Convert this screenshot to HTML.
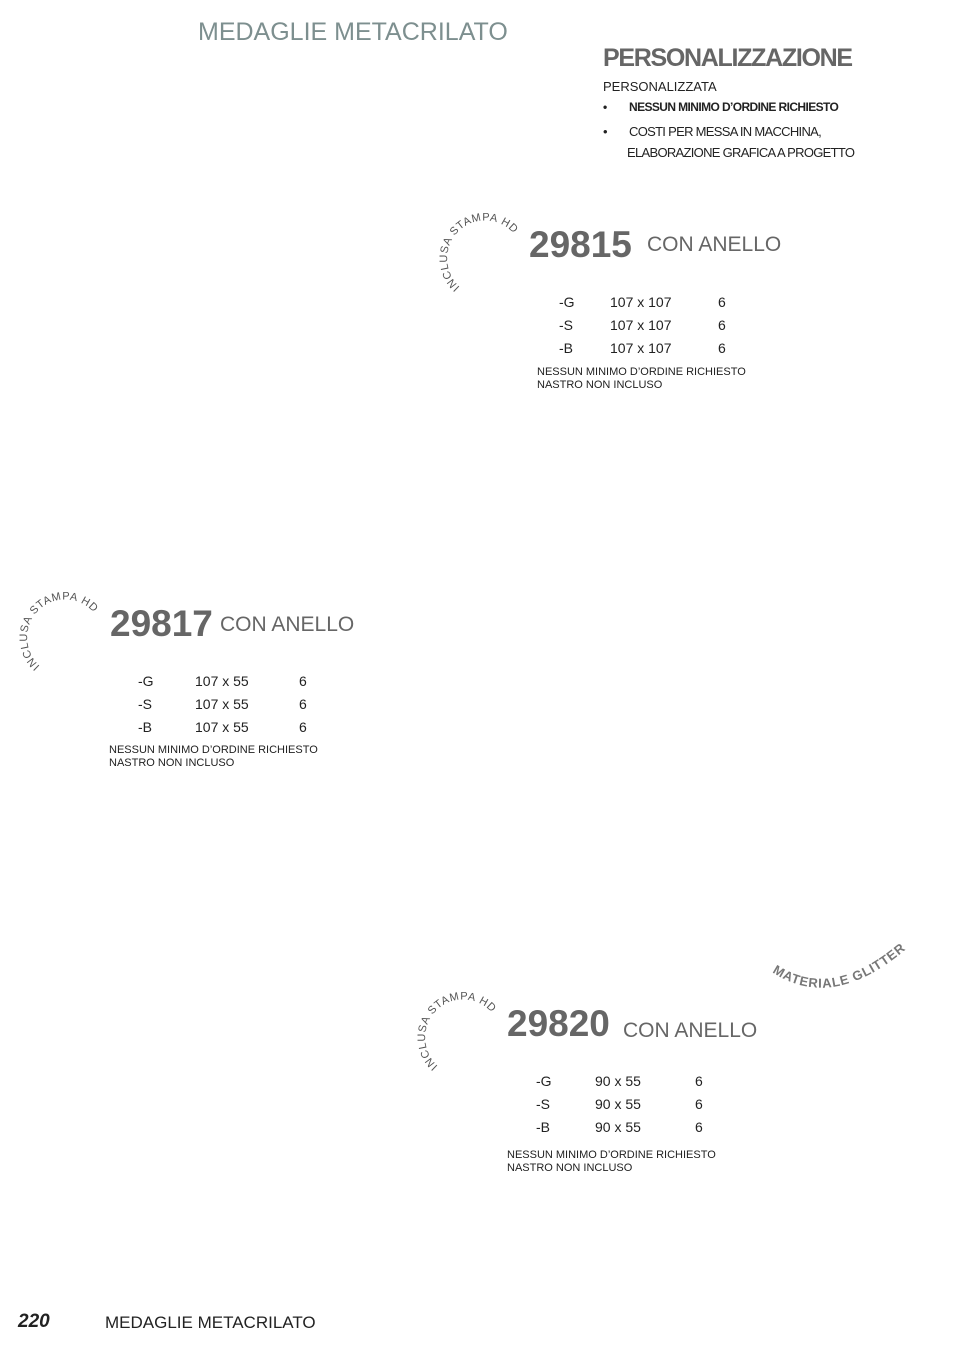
<!DOCTYPE html>
<html><head><meta charset="utf-8"><style>
body{margin:0;background:#fff;}
.pg{position:relative;width:970px;height:1350px;font-family:"Liberation Sans",sans-serif;color:#222;overflow:hidden;}
.a{position:absolute;white-space:nowrap;}
.num{font-weight:bold;color:#666;font-size:37px;}
.con{color:#666;font-size:21px;}
.row{font-size:14px;color:#222;}
.note{font-size:11px;color:#222;line-height:13px;}
</style></head><body><div class="pg">
<div class="a" style="left:198px;top:18px;font-size:25px;color:#7d8f8f;">MEDAGLIE METACRILATO</div>
<div class="a" style="left:603px;top:44px;font-size:25px;font-weight:bold;color:#666;letter-spacing:-1.3px;">PERSONALIZZAZIONE</div>
<div class="a" style="left:603px;top:79px;font-size:13px;">PERSONALIZZATA</div>
<div class="a" style="left:603px;top:100px;font-size:12px;font-weight:bold;letter-spacing:-0.6px;">•<span style="position:absolute;left:26px;">NESSUN MINIMO D’ORDINE RICHIESTO</span></div>
<div class="a" style="left:603px;top:121px;font-size:13px;letter-spacing:-0.7px;line-height:21px;">•<span style="position:absolute;left:26px;top:0;">COSTI PER MESSA IN MACCHINA,</span><br><span style="margin-left:24px;">ELABORAZIONE GRAFICA A PROGETTO</span></div>

<svg class="a" style="left:0;top:0" width="970" height="1350">
<defs>
<path id="c1" d="M460,287 A38,38 0 1 1 515,235"/>
<path id="c2" d="M40,666 A38,38 0 1 1 95,614"/>
<path id="c3" d="M438,1066 A38,38 0 1 1 493,1014"/>
<path id="g" d="M772,972 Q832,1012 905,950"/>
</defs>
<g font-family="Liberation Sans,sans-serif" font-size="11" fill="#555">
<text><textPath href="#c1" textLength="124">INCLUSA STAMPA HD</textPath></text>
<text><textPath href="#c2" textLength="124">INCLUSA STAMPA HD</textPath></text>
<text><textPath href="#c3" textLength="124">INCLUSA STAMPA HD</textPath></text>
</g>
<text font-family="Liberation Sans,sans-serif" font-size="13" font-weight="bold" fill="#777" letter-spacing="0.8"><textPath href="#g">MATERIALE  GLITTER</textPath></text>
</svg>

<div class="a num" style="left:529px;top:224px;">29815</div>
<div class="a con" style="left:647px;top:233px;">CON ANELLO</div>
<div class="a row" style="left:559px;top:291px;line-height:23px;">-G<br>-S<br>-B</div>
<div class="a row" style="left:610px;top:291px;line-height:23px;">107 x 107<br>107 x 107<br>107 x 107</div>
<div class="a row" style="left:718px;top:291px;line-height:23px;">6<br>6<br>6</div>
<div class="a note" style="left:537px;top:366px;">NESSUN MINIMO D’ORDINE RICHIESTO<br>NASTRO NON INCLUSO</div>

<div class="a num" style="left:110px;top:603px;">29817</div>
<div class="a con" style="left:220px;top:613px;">CON ANELLO</div>
<div class="a row" style="left:138px;top:670px;line-height:23px;">-G<br>-S<br>-B</div>
<div class="a row" style="left:195px;top:670px;line-height:23px;">107 x 55<br>107 x 55<br>107 x 55</div>
<div class="a row" style="left:299px;top:670px;line-height:23px;">6<br>6<br>6</div>
<div class="a note" style="left:109px;top:744px;">NESSUN MINIMO D’ORDINE RICHIESTO<br>NASTRO NON INCLUSO</div>

<div class="a num" style="left:507px;top:1003px;">29820</div>
<div class="a con" style="left:623px;top:1019px;">CON ANELLO</div>
<div class="a row" style="left:536px;top:1070px;line-height:23px;">-G<br>-S<br>-B</div>
<div class="a row" style="left:595px;top:1070px;line-height:23px;">90 x 55<br>90 x 55<br>90 x 55</div>
<div class="a row" style="left:695px;top:1070px;line-height:23px;">6<br>6<br>6</div>
<div class="a note" style="left:507px;top:1149px;">NESSUN MINIMO D’ORDINE RICHIESTO<br>NASTRO NON INCLUSO</div>

<div class="a" style="left:18px;top:1311px;font-size:19px;font-weight:bold;font-style:italic;">220</div>
<div class="a" style="left:105px;top:1313px;font-size:17px;">MEDAGLIE METACRILATO</div>
</div></body></html>
